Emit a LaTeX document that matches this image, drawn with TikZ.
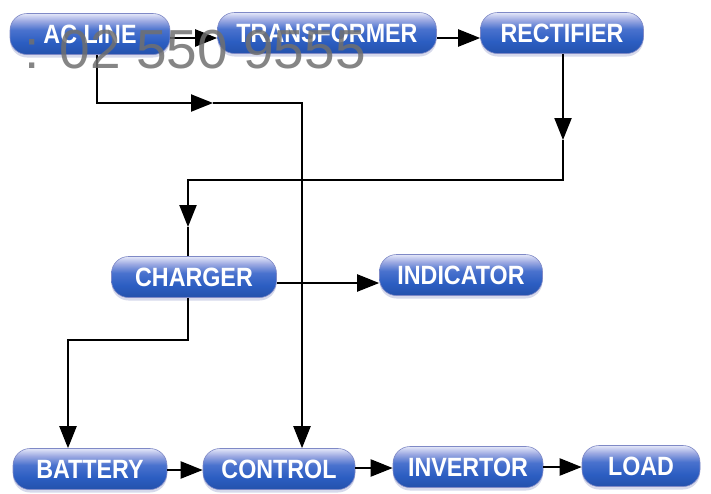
\documentclass[tikz,border=0pt]{standalone}
\usepackage{fontspec}
\setmainfont{Liberation Sans}
\usetikzlibrary{arrows.meta,shadows,calc}

\definecolor{pbot}{HTML}{2452AC}
\definecolor{pblue}{HTML}{2C5EC2}
\definecolor{pmid}{HTML}{4A72CE}
\definecolor{plav}{HTML}{9DAAE2}
\definecolor{ptop}{HTML}{E4E7F8}
\definecolor{pedge}{HTML}{7F89C6}
\definecolor{pshadow}{HTML}{8C94C8}
\definecolor{wmgray}{HTML}{707070}

% glossy pill fill: light top, strong blue bottom
\pgfdeclareverticalshading{pillshade}{100bp}{%
  color(0bp)=(pbot); color(25bp)=(pbot); color(40bp)=(pblue);
  color(55bp)=(pmid); color(66bp)=(plav); color(75bp)=(ptop); color(100bp)=(ptop)}

% slightly condensed, tall bold caption
\newcommand{\pilltext}[1]{\scalebox{0.95}[1.08]{#1}}

\tikzset{
  block/.style={rectangle, rounded corners=17pt, shading=pillshade,
    draw=pedge, line width=0.6pt, text=white, inner sep=0pt,
    font=\bfseries\fontsize{24.5}{24.5}\selectfont, minimum height=41pt,
    drop shadow={opacity=0.35, fill=pshadow, shadow xshift=0pt, shadow yshift=-3pt}},
  link/.style={line width=2.2pt, draw=black},
  arr/.style={link, -{Triangle[length=22pt,width=17pt]}},
}

\begin{document}
\begin{tikzpicture}[x=1pt,y=-1pt]
  \fill[white] (0,0) rectangle (711,493);
  \useasboundingbox (0,0) rectangle (711,493);

  % blocks
  \node[block, minimum width=160pt] (ac)  at (90,34)  {\pilltext{AC LINE}};
  \node[block, minimum width=219pt] (tr)  at (327,33) {\pilltext{TRANSFORMER}};
  \node[block, minimum width=163pt] (re)  at (562,33) {\pilltext{RECTIFIER}};
  \node[block, minimum width=165pt] (ch)  at (194,277) {\pilltext{CHARGER}};
  \node[block, minimum width=163pt] (ind) at (461,275) {\pilltext{INDICATOR}};
  \node[block, minimum width=154pt] (bat) at (90,469)  {\pilltext{BATTERY}};
  \node[block, minimum width=152pt] (ctl) at (279,469) {\pilltext{CONTROL}};
  \node[block, minimum width=150pt] (inv) at (468,467) {\pilltext{INVERTOR}};
  \node[block, minimum width=118pt] (ld)  at (641,466) {\pilltext{LOAD}};

  % bend points and mid-line arrow tips
  \coordinate (acx) at (97,0);
  \coordinate (k1)  at (213,103);
  \coordinate (ctx) at (302,0);
  \coordinate (rex) at (563,0);
  \coordinate (k2)  at (563,140);
  \coordinate (k3)  at (188,227);
  \coordinate (k4)  at (68,340);

  % top row
  \draw[arr] ($(ac.east)+(0,4)$) -- ($(tr.west)+(0,5)$);
  \draw[arr] ($(tr.east)+(0,5)$) -- ($(re.west)+(0,5)$);

  % AC line feed to control
  \draw[arr] (ac.south -| acx) |- (k1);
  \draw[arr] (k1) -| (ctl.north -| ctx);

  % rectifier to charger
  \draw[arr] (re.south -| rex) -- (k2);
  \draw[arr] (k2) |- ($(k3)+(0,-47)$) -- (k3);
  \draw[link] (k3) -- (ch.north -| k3);

  % charger to indicator and battery
  \draw[arr] ($(ch.east)+(0,6)$) -- ($(ind.west)+(0,8)$);
  \draw[arr] (ch.south -| k3) |- (k4) -- (bat.north -| k4);

  % bottom row
  \draw[arr] ($(bat.east)+(0,1)$) -- ($(ctl.west)+(0,1)$);
  \draw[arr] ($(ctl.east)+(0,-1)$) -- ($(inv.west)+(0,1)$);
  \draw[arr] (inv.east) -- ($(ld.west)+(0,1)$);

  % overprinted phone number
  \node[anchor=base west, inner sep=0pt, text=wmgray, opacity=0.85,
        font=\fontsize{55}{55}\selectfont] (wm) at (24,68) {: 02 550 9555};
\end{tikzpicture}
\end{document}
